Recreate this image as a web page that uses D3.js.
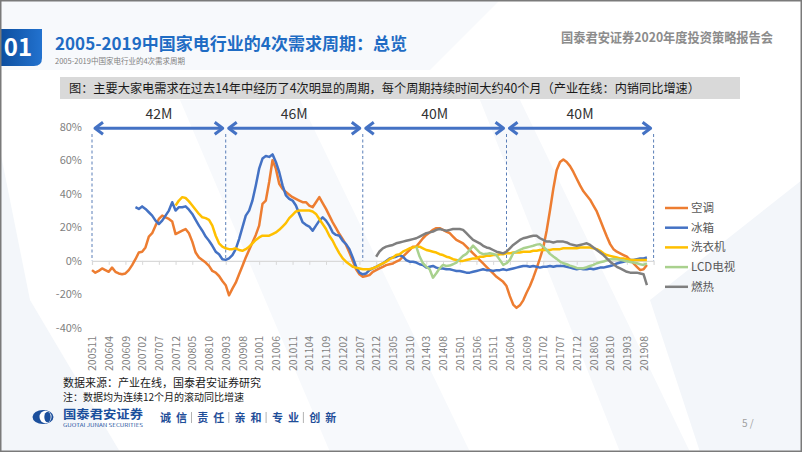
<!DOCTYPE html>
<html><head><meta charset="utf-8">
<script src="https://cdn.jsdelivr.net/npm/d3@7/dist/d3.min.js"></script>
<style>
html,body{margin:0;padding:0;background:#fff;}
svg{display:block;}
text{font-family:"Noto Sans CJK SC","Noto Sans",sans-serif;}
</style></head><body>
<svg id="chart" width="802" height="452"></svg>
<script>
// ---------------- data ----------------
const seriesNames = ["空调","冰箱","洗衣机","LCD电视","燃热"];
const xTickLabels = ["200511","200604","200609","200702","200707","200712","200805","200810","200903","200908","201001","201006","201011","201104","201109","201202","201207","201212","201305","201310","201403","201408","201501","201506","201511","201604","201609","201702","201707","201712","201805","201810","201903","201908"];
const yTicks = [80,60,40,20,0,-20,-40];
const cycleBounds = ["200511","200903","201208","201603","201911"];
const cycleLabels = ["42M","46M","40M","40M"];

// monthly values (%), 200511 .. 201909
const airCon = [-5.5,-7,-6,-4.5,-5.5,-6.5,-4,-6.5,-7.5,-8,
 -7.5,-5.5,-2.5,1,5,5.5,8,14.5,16.5,21,
 25,27,26,25,23.5,16,17,18,19,16.5,
 11.5,5,2,0.5,-1,-3,-6,-7,-9,-12,
 -14.5,-20.5,-16.5,-13,-8,-3,2,6.5,11,15.5,
 21,34,36,47,60,55,46,43,41,39.5,
 38,37,36,35,35,33,32,35,38,34.5,
 31,27,23,19.5,16,13,9.5,5,0,-5,
 -8,-9.5,-9,-8.5,-6.5,-5.5,-4.5,-3.5,-2.5,-2,
 -1.5,-0.5,0.5,2.5,4.5,6.5,8.5,8.5,11,13.5,
 15.5,17,18.5,19.5,19.5,18.5,17.5,16.5,14.5,12.5,
 11.5,10.5,8.5,6.5,4.5,2.5,0.5,-1.5,-3.5,-5.5,
 -7.5,-9.5,-11,-12.5,-15,-21,-26,-28,-26.5,-23.5,
 -19,-15,-10,-4.5,1.5,8,18,30,43,54,
 59,60.5,59,56.5,53,49,45,41.5,39,36.5,
 33,29.5,24.5,19.5,14.5,10,7,5.5,4.5,3.5,
 2.5,0.5,-1.5,-3.5,-5.5,-5,-2.5];

const fridge = [null,null,null,null,null,null,null,null,null,null,
 null,null,null,32,31,32.5,31,29,27,24,
 22,24,27,30,35,30,32,32,32.5,30.5,
 28,24.5,21,18,14.5,12,9,5.5,4,1,
 0.6,1.5,3.5,7,13,20,27,30,36,45,
 55,61,62.5,62,63.5,59,53,45,39,37,
 36,33,28,23,21.5,20.5,18,21,24,26,
 24,21,17,15.5,15,12,10,7,2,-3.5,
 -7,-8,-7.5,-5.5,-4.5,-3.5,-2.5,-1.5,0,1.5,
 2,2.5,3.5,2.5,0.5,-0.5,-0.5,-1,-2,-2.5,
 -4,-3.5,-3,-4,-4.5,-4.5,-5,-5,-5.5,-6,
 -6,-6.5,-7,-7,-6.5,-6,-5.5,-5,-5.5,-5.5,
 -6,-5.5,-5.5,-5,-5.5,-5,-4.5,-4,-3.5,-3,
 -3,-3.5,-3,-3.5,-4,-3.5,-3.5,-3,-3.5,-3,
 -3,-3,-3.5,-4,-4.5,-5,-4.5,-5,-5,-4.5,
 -5,-4.5,-4,-4,-3.5,-3,-2.5,-1.5,-1,-0.5,
 0,0.5,0.5,1,1.5,1.5,2];

const washer = [null,null,null,null,null,null,null,null,null,null,
 null,null,null,null,null,null,null,null,null,null,
 null,null,null,null,null,33,36,38,37.5,35.5,
 33,30.5,28,26,25.5,24.5,21,15,10.5,8.5,
 7.5,7,7,7.5,6.5,6,7,8.5,10.5,12.5,
 14,15,15,15,16,17,18.5,20.5,22.5,25.5,
 27.5,29.5,30,30,30,30,29.5,28,25,22,
 19,15,12,8,4.5,1.5,-0.5,-2,-3.5,-4,
 -4.5,-5,-5,-5,-4.4,-3.5,-2.5,-1.5,-0.5,1,
 2,3.5,4,5.5,6.5,7.5,8,8.5,8.5,7.5,
 6.5,6,5.5,5,4,3.5,2.5,2,1,0.5,
 0,0,0.5,1,1.5,1.5,2.5,2.5,3,3,
 3.5,3.5,4,4,4.5,4.5,5,5,5,5.5,
 5.5,5.5,6,6,6.5,6.5,6.5,6.5,7,7,
 7,7.5,7.5,7.5,7.5,7.5,8,8,8,8,
 7.5,7,6,4.5,3.5,3,2.5,2,1.5,1.5,
 1,0.5,0.5,0.5,0.5,0.5,0.5];

const lcdTv = new Array(97).fill(null).concat([
 8.5,2.6,-1.4,
 -3.4,-5,-10,-7.4,-4.4,-2.4,-3,-2.8,-2,-1,
 1,3,4.2,6.6,9.1,7,5,4,4.2,4.6,
 4.2,3.4,0.6,-2.4,-1.4,0.6,4.6,5.6,6.6,7.5,
 8,8.5,9,9.7,10,8.5,6.6,4.2,2.6,1.2,
 -0.4,-1.4,-2,-2.8,-3.4,-4.2,-4.4,-4.4,-3.8,-3,
 -2.4,-1.4,-0.8,-0.4,0.4,1,1.2,1,0.6,0.2,
 -0.2,-0.6,-1,-1.4,-2,-2.4,-1.4]);

const gasHeater = new Array(85).fill(null).concat([
 2.5,5.6,7.5,8.5,9,
 9.5,10.5,11,11.5,12,12.5,13,13.5,14.5,15.5,
 16.5,17,17.5,18.5,19,18.5,18,18.5,19,19,
 19,18.5,16.5,14.5,12.5,11.5,10.5,9,8,7.5,
 6.5,5.5,5,4.5,5.5,7.5,9.5,11,12.5,13.5,
 14,14.5,15,15,13.5,12.5,11.5,11.5,11,11.5,
 11.5,11.5,11,10,9.5,9,9.5,10,10.5,9.5,
 8,6.5,5,3.5,1.5,-0.5,-2,-3.5,-4.5,-5.5,
 -6.5,-7,-7,-7,-7.5,-8,-14.5]);

const seriesValues = [airCon, fridge, washer, lcdTv, gasHeater];
const seriesColors = ["#ED7D31","#4472C4","#FFC000","#A9D18E","#7F7F7F"];

// ---------------- drawing ----------------
const svg = d3.select("#chart");
const months = d3.timeMonth.range(new Date(2005,10,1), new Date(2019,11,1)).map(d3.timeFormat("%Y%m"));

// background decorations
svg.append("rect").attr("width",802).attr("height",452).attr("fill","#ffffff");
svg.append("polygon").attr("points","0,70 0,452 120,452 30,300 0,150").attr("fill","#f3f6fa");
svg.append("polygon").attr("points","180,100 300,100 470,452 330,452").attr("fill","#f7f9fc");
svg.append("polygon").attr("points","480,100 520,100 690,452 620,452").attr("fill","#f6f8fb");
svg.append("polygon").attr("points","650,300 802,180 802,452 700,452").attr("fill","#f3f6fa");
svg.append("polygon").attr("points","0,0 500,0 430,70 0,70").attr("fill","#f7f9fc");

// header
const grad = svg.append("defs").append("linearGradient").attr("id","g01").attr("x1","0").attr("x2","1");
grad.append("stop").attr("offset","0").attr("stop-color","#0c4d9e");
grad.append("stop").attr("offset","1").attr("stop-color","#2272cf");
svg.append("path").attr("d","M0,29 H42 V58 Q42,66 34,66 H0 Z").attr("fill","url(#g01)");
svg.append("text").attr("x",18).attr("y",56).attr("text-anchor","middle")
  .attr("font-family","Noto Sans").attr("font-weight","bold").attr("font-size",24).attr("fill","#fff").text("01");
svg.append("text").attr("x",55).attr("y",50).attr("font-size",17).attr("font-weight","bold")
  .attr("fill","#1f6cc4").attr("textLength",352).attr("lengthAdjust","spacing")
  .text("2005-2019中国家电行业的4次需求周期：总览");
svg.append("text").attr("x",55).attr("y",64).attr("font-size",7.5).attr("fill","#808080")
  .text("2005-2019中国家电行业的4次需求周期");
svg.append("text").attr("x",561).attr("y",42).attr("font-size",13).attr("font-weight","bold")
  .attr("fill","#8c8c8c").attr("textLength",212).attr("lengthAdjust","spacingAndGlyphs")
  .text("国泰君安证券2020年度投资策略报告会");

// banner
svg.append("rect").attr("x",60).attr("y",77).attr("width",680).attr("height",22).attr("fill","#d9d9d9");
svg.append("text").attr("x",69).attr("y",92.5).attr("font-size",12.5).attr("fill","#1a1a1a")
  .attr("textLength",631).attr("lengthAdjust","spacingAndGlyphs")
  .text("图：主要大家电需求在过去14年中经历了4次明显的周期，每个周期持续时间大约40个月（产业在线：内销同比增速）");

// scales
const x = d3.scalePoint().domain(months).range([92, 653.6]);
const y = d3.scaleLinear().domain([-40, 80]).range([328, 126.7]);

// y axis labels
const yAxis = d3.axisLeft(y).tickValues(yTicks).tickFormat(d => d + "%").tickSize(0).tickPadding(3);
const gy = svg.append("g").attr("transform","translate(85,0)").call(yAxis);
gy.select(".domain").remove();
gy.selectAll("text").attr("font-family","Noto Sans").attr("font-size",11).attr("fill","#7f7f7f");

// zero axis line with ticks
const xAxisLine = d3.axisBottom(x).tickValues(xTickLabels).tickSize(4).tickFormat("");
const gx = svg.append("g").attr("transform",`translate(0,${y(0)})`).call(xAxisLine);
gx.select(".domain").attr("stroke","#d9d9d9").attr("stroke-width",1.2);
gx.selectAll(".tick line").attr("stroke","#d9d9d9");

// x labels at bottom (rotated)
const xLabels = d3.axisBottom(x).tickValues(xTickLabels).tickSize(0);
const gxl = svg.append("g").attr("transform","translate(0,336)").call(xLabels);
gxl.select(".domain").remove();
gxl.selectAll("text")
  .attr("font-family","Noto Sans").attr("font-size",10.5).attr("fill","#7f7f7f")
  .attr("transform","rotate(-90)").attr("text-anchor","end")
  .attr("x",0).attr("y",0).attr("dy","0.35em");

// cycle dashed lines
svg.append("g").selectAll("line").data(cycleBounds).join("line")
  .attr("x1", d => x(d)).attr("x2", d => x(d))
  .attr("y1", 134).attr("y2", y(0))
  .attr("stroke","#5b7fb8").attr("stroke-width",1).attr("stroke-dasharray","3,2.5");

// arrows
const arrowY = 128.3;
const ag = svg.append("g");
cycleLabels.forEach((lab, i) => {
  const x1 = x(cycleBounds[i]) + 2, x2 = x(cycleBounds[i+1]) - 2;
  ag.append("line").attr("x1",x1+2).attr("x2",x2-2).attr("y1",arrowY).attr("y2",arrowY)
    .attr("stroke","#4472C4").attr("stroke-width",3);
  ag.append("path").attr("d",`M${x1+9},${arrowY-6} L${x1+1},${arrowY} L${x1+9},${arrowY+6}`)
    .attr("fill","none").attr("stroke","#4472C4").attr("stroke-width",3).attr("stroke-linejoin","round");
  ag.append("path").attr("d",`M${x2-9},${arrowY-6} L${x2-1},${arrowY} L${x2-9},${arrowY+6}`)
    .attr("fill","none").attr("stroke","#4472C4").attr("stroke-width",3).attr("stroke-linejoin","round");
  ag.append("text").attr("x",(x(cycleBounds[i])+x(cycleBounds[i+1]))/2).attr("y",119)
    .attr("text-anchor","middle").attr("font-family","Noto Sans").attr("font-size",14).attr("fill","#333")
    .text(lab);
});

// lines
const line = d3.line().defined(d => d.v != null).x(d => x(d.m)).y(d => y(d.v));
seriesValues.forEach((vals, i) => {
  const pts = vals.map((v, k) => ({m: months[k], v}));
  svg.append("path").datum(pts).attr("d", line)
    .attr("fill","none").attr("stroke",seriesColors[i]).attr("stroke-width",2.5)
    .attr("stroke-linejoin","round");
});

// legend
const lg = svg.append("g");
seriesNames.forEach((n, i) => {
  const ly = 208 + i * 19.7;
  lg.append("line").attr("x1",665).attr("x2",688).attr("y1",ly).attr("y2",ly)
    .attr("stroke",seriesColors[i]).attr("stroke-width",2.5);
  lg.append("text").attr("x",691).attr("y",ly+4).attr("font-size",11.5).attr("fill","#595959").text(n);
});

// footer notes
svg.append("text").attr("x",63).attr("y",387).attr("font-size",11).attr("fill","#1a1a1a")
  .text("数据来源：产业在线，国泰君安证券研究");
svg.append("text").attr("x",63).attr("y",401).attr("font-size",10).attr("fill","#1a1a1a")
  .text("注：数据均为连续12个月的滚动同比增速");

// logo
svg.append("ellipse").attr("cx",43).attr("cy",417).attr("rx",10.5).attr("ry",7).attr("fill","#1b4f9c");
svg.append("ellipse").attr("cx",45.5).attr("cy",417).attr("rx",6).attr("ry",6.2).attr("fill","#fff");
svg.append("ellipse").attr("cx",47.5).attr("cy",417).attr("rx",3.2).attr("ry",5.2).attr("fill","#1b4f9c");
svg.append("text").attr("x",63).attr("y",418.5).attr("font-size",12).attr("font-weight","bold")
  .attr("fill","#1b4f9c").attr("textLength",80).attr("lengthAdjust","spacingAndGlyphs").text("国泰君安证券");
svg.append("text").attr("x",63).attr("y",426.5).attr("font-family","Noto Sans").attr("font-size",4.2)
  .attr("fill","#1b4f9c").attr("textLength",80).attr("lengthAdjust","spacingAndGlyphs").text("GUOTAI JUNAN SECURITIES");
const slogan = [["诚","信"],["责","任"],["亲","和"],["专","业"],["创","新"]];
slogan.forEach((p, i) => {
  const x0 = 160 + i * 37.3;
  svg.append("text").attr("x",x0).attr("y",421.5).attr("font-size",11).attr("font-weight","bold").attr("fill","#1f4e99").text(p[0]);
  svg.append("text").attr("x",x0+16).attr("y",421.5).attr("font-size",11).attr("font-weight","bold").attr("fill","#1f4e99").text(p[1]);
  if (i < 4) svg.append("line").attr("x1",x0+31.5).attr("x2",x0+31.5).attr("y1",412).attr("y2",423)
    .attr("stroke","#a0a0a0").attr("stroke-width",0.8);
});
svg.append("text").attr("x",742).attr("y",427).attr("font-family","Noto Sans").attr("font-size",10).attr("fill","#a0a0a0").text("5 /");

// border
svg.append("rect").attr("x",0.75).attr("y",0.75).attr("width",800.5).attr("height",450.5)
  .attr("fill","none").attr("stroke","#7a7a7a").attr("stroke-width",1.5);
</script>
</body></html>
